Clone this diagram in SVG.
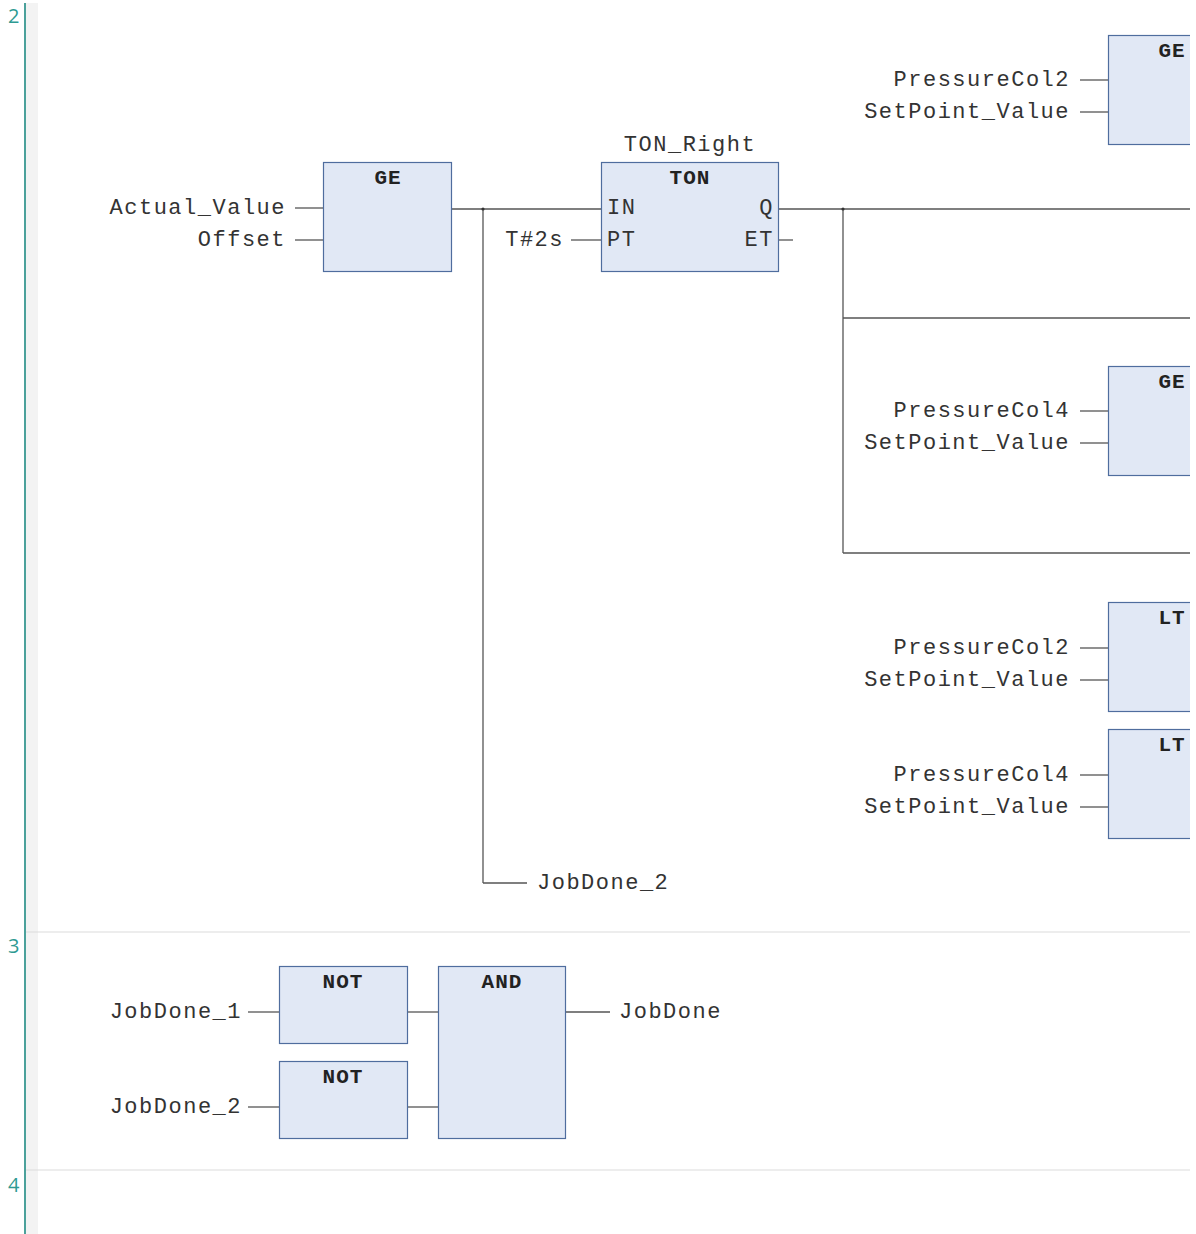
<svg xmlns="http://www.w3.org/2000/svg" width="1196" height="1234" viewBox="0 0 1196 1234">
  <style>
    .lbl { font-family: "Liberation Mono", "DejaVu Sans Mono", monospace; font-size: 22px; letter-spacing: 1.5px; fill: #333; }
    .end { text-anchor: end; }
    .mid { text-anchor: middle; }
    .ttl { font-family: "Liberation Mono", "DejaVu Sans Mono", monospace; font-size: 21px; font-weight: bold; letter-spacing: 1px; fill: #222; text-anchor: middle; }
    .blk { fill: #e1e8f5; stroke: #4f6d9e; stroke-width: 1.2; }
    .wire { stroke: #555; stroke-width: 1.3; fill: none; }
    .rung { font-family: "Open Sans", "Liberation Sans", sans-serif; font-size: 20px; fill: #2e9a92; }
    .sep { stroke: #dcdcdc; stroke-width: 1.2; }
  </style>
  <defs>
    <clipPath id="view">
      <rect x="0" y="0" width="1190" height="1234"/>
    </clipPath>
  </defs>

  <rect x="0" y="0" width="1196" height="1234" fill="#ffffff"/>

  <!-- left gutter with rung numbers -->
  <g id="gutter">
    <rect x="26" y="3" width="12" height="1231" fill="#f3f3f3"/>
    <line x1="25" y1="3" x2="25" y2="1234" stroke="#1f8a82" stroke-width="1.6"/>
    <line class="sep" x1="26" y1="932" x2="1190" y2="932"/>
    <line class="sep" x1="26" y1="1170" x2="1190" y2="1170"/>
    <text class="rung" x="8" y="23">2</text>
    <text class="rung" x="8" y="953">3</text>
    <text class="rung" x="8" y="1192">4</text>
  </g>

  <g clip-path="url(#view)">
    <!-- connectors -->
    <g id="connectors">
      <line class="wire" x1="295" y1="208" x2="323" y2="208"/>
      <line class="wire" x1="295" y1="240" x2="323" y2="240"/>
      <line class="wire" x1="451" y1="209" x2="601" y2="209"/>
      <line class="wire" x1="483" y1="209" x2="483" y2="883"/>
      <line class="wire" x1="483" y1="883" x2="527" y2="883"/>
      <line class="wire" x1="571" y1="240" x2="601" y2="240"/>
      <line class="wire" x1="778" y1="209" x2="1190" y2="209"/>
      <line class="wire" x1="778" y1="240" x2="793" y2="240"/>
      <line class="wire" x1="843" y1="209" x2="843" y2="553"/>
      <line class="wire" x1="843" y1="318" x2="1190" y2="318"/>
      <line class="wire" x1="843" y1="553" x2="1190" y2="553"/>
      <line class="wire" x1="1080" y1="80" x2="1108" y2="80"/>
      <line class="wire" x1="1080" y1="112" x2="1108" y2="112"/>
      <line class="wire" x1="1080" y1="411" x2="1108" y2="411"/>
      <line class="wire" x1="1080" y1="443" x2="1108" y2="443"/>
      <line class="wire" x1="1080" y1="648" x2="1108" y2="648"/>
      <line class="wire" x1="1080" y1="680" x2="1108" y2="680"/>
      <line class="wire" x1="1080" y1="775" x2="1108" y2="775"/>
      <line class="wire" x1="1080" y1="807" x2="1108" y2="807"/>
      <line class="wire" x1="248" y1="1012" x2="279" y2="1012"/>
      <line class="wire" x1="248" y1="1107" x2="279" y2="1107"/>
      <line class="wire" x1="407" y1="1012" x2="438" y2="1012"/>
      <line class="wire" x1="407" y1="1107" x2="438" y2="1107"/>
      <line class="wire" x1="565" y1="1012" x2="610" y2="1012"/>
      <circle cx="483" cy="209" r="1.6" fill="#333"/>
      <circle cx="843" cy="209" r="1.6" fill="#333"/>
    </g>

    <!-- rung 2 -->
    <g id="ge_main">
      <rect class="blk" x="323.5" y="162.5" width="128" height="109"/>
      <text class="ttl" x="388" y="184">GE</text>
      <text class="lbl end" x="286" y="214">Actual_Value</text>
      <text class="lbl end" x="286" y="246">Offset</text>
    </g>

    <g id="ton_right">
      <text class="lbl mid" x="690" y="151">TON_Right</text>
      <rect class="blk" x="601.5" y="162.5" width="177" height="109"/>
      <text class="ttl" x="690" y="184">TON</text>
      <text class="lbl" x="607" y="214">IN</text>
      <text class="lbl" x="607" y="246">PT</text>
      <text class="lbl end" x="774" y="214">Q</text>
      <text class="lbl end" x="774" y="246">ET</text>
      <text class="lbl end" x="564" y="246">T#2s</text>
    </g>

    <g id="ge_col2">
      <rect class="blk" x="1108.5" y="35.5" width="128" height="109"/>
      <text class="ttl" x="1172" y="57">GE</text>
      <text class="lbl end" x="1070" y="86">PressureCol2</text>
      <text class="lbl end" x="1070" y="118">SetPoint_Value</text>
    </g>

    <g id="ge_col4">
      <rect class="blk" x="1108.5" y="366.5" width="128" height="109"/>
      <text class="ttl" x="1172" y="388">GE</text>
      <text class="lbl end" x="1070" y="417">PressureCol4</text>
      <text class="lbl end" x="1070" y="449">SetPoint_Value</text>
    </g>

    <g id="lt_col2">
      <rect class="blk" x="1108.5" y="602.5" width="128" height="109"/>
      <text class="ttl" x="1172" y="624">LT</text>
      <text class="lbl end" x="1070" y="654">PressureCol2</text>
      <text class="lbl end" x="1070" y="686">SetPoint_Value</text>
    </g>

    <g id="lt_col4">
      <rect class="blk" x="1108.5" y="729.5" width="128" height="109"/>
      <text class="ttl" x="1172" y="751">LT</text>
      <text class="lbl end" x="1070" y="781">PressureCol4</text>
      <text class="lbl end" x="1070" y="813">SetPoint_Value</text>
    </g>

    <g id="jobdone2_out">
      <text class="lbl" x="537" y="889">JobDone_2</text>
    </g>

    <!-- rung 3 -->
    <g id="not_1">
      <rect class="blk" x="279.5" y="966.5" width="128" height="77"/>
      <text class="ttl" x="343" y="988">NOT</text>
      <text class="lbl end" x="242" y="1018">JobDone_1</text>
    </g>

    <g id="not_2">
      <rect class="blk" x="279.5" y="1061.5" width="128" height="77"/>
      <text class="ttl" x="343" y="1083">NOT</text>
      <text class="lbl end" x="242" y="1113">JobDone_2</text>
    </g>

    <g id="and_1">
      <rect class="blk" x="438.5" y="966.5" width="127" height="172"/>
      <text class="ttl" x="502" y="988">AND</text>
      <text class="lbl" x="619" y="1018">JobDone</text>
    </g>
  </g>
</svg>
